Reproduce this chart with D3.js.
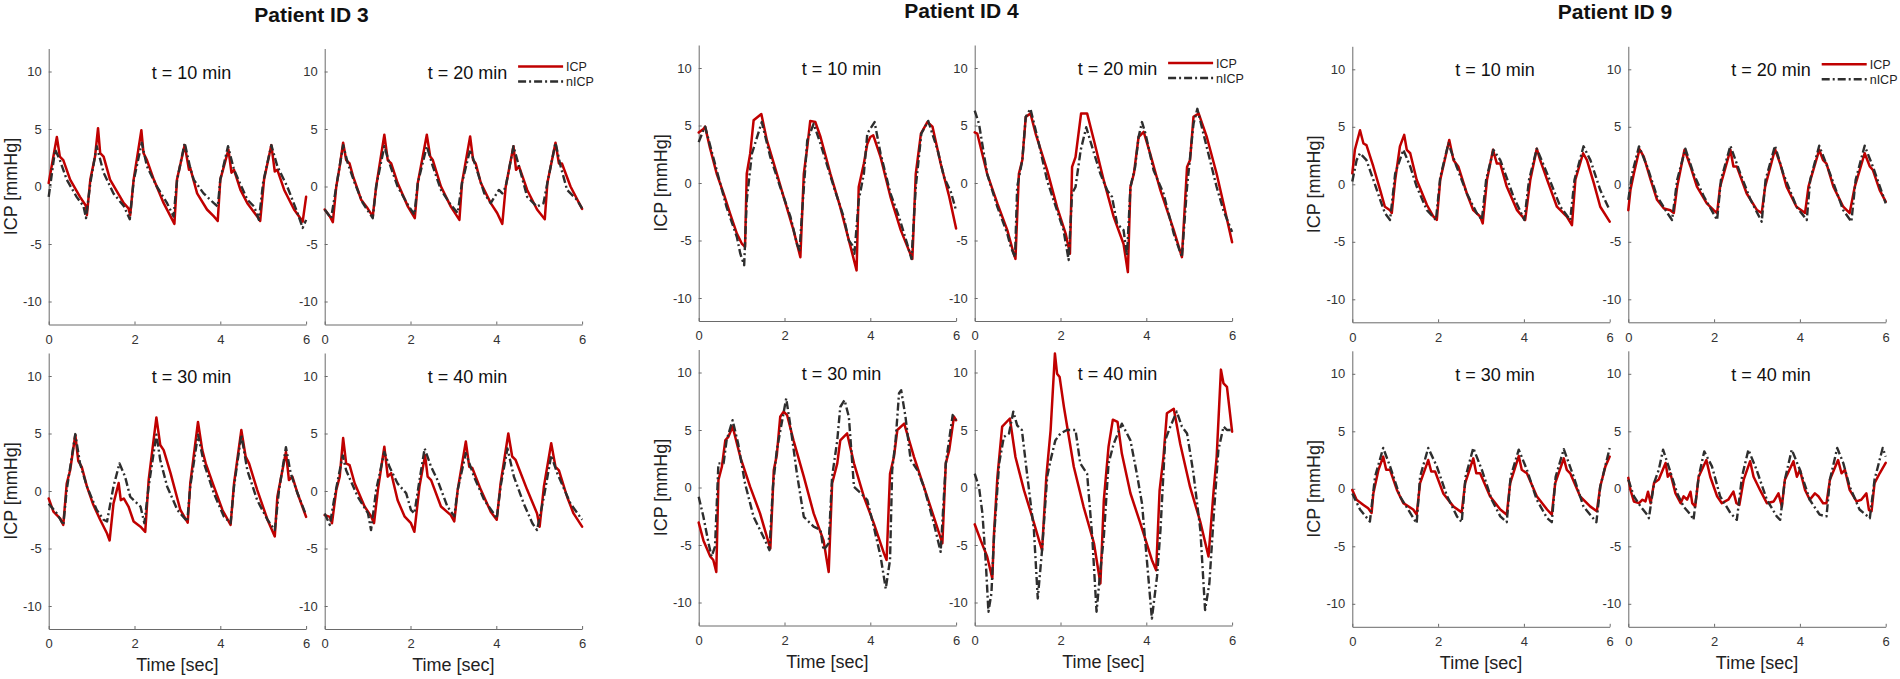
<!DOCTYPE html>
<html><head><meta charset="utf-8">
<script src="https://cdn.jsdelivr.net/npm/d3@7"></script>
<style>body{margin:0;background:#fff;} svg{display:block;font-family:"Liberation Sans",Arial,sans-serif;}</style>
</head><body><svg id="chart" width="1900" height="679"></svg>
<script>
const patients = ["Patient ID 3", "Patient ID 4", "Patient ID 9"];
const timeLabels = ["t = 10 min", "t = 20 min", "t = 30 min", "t = 40 min"];
const seriesNames = ["ICP", "nICP"];
const xTicks = [0, 2, 4, 6];
const yTicks = [-10, -5, 0, 5, 10];
const xLabel = "Time [sec]";
const yLabel = "ICP [mmHg]";

// Patient 3
const icp_3_10 = [[0,0.3],[0.19,4.3],[0.26,2.6],[0.34,2.3],[0.5,0.6],[0.73,-0.9],[0.87,-1.7],[0.89,-2.5],[0.97,0.6],[1.08,2.6],[1.15,5.07],[1.2,2.9],[1.28,2.6],[1.43,0.6],[1.75,-1.45],[1.86,-1.9],[1.9,-2.5],[1.98,0.6],[2.16,4.9],[2.21,2.9],[2.29,2.3],[2.45,0.6],[2.68,-1.45],[2.84,-2.6],[2.93,-3.25],[2.99,0.6],[3.17,3.6],[3.27,1.45],[3.3,1.6],[3.46,-0.6],[3.69,-2.0],[3.85,-2.6],[3.94,-3.0],[4.0,0.6],[4.19,3.2],[4.26,1.2],[4.32,1.45],[4.47,-0.3],[4.63,-1.45],[4.86,-2.6],[4.93,-3.0],[5.02,0.6],[5.19,3.6],[5.27,1.3],[5.33,1.45],[5.49,-0.3],[5.72,-2.0],[5.92,-3.05],[6.0,-0.9]];
const nicp_3_10 = [[0,-0.9],[0.15,3.2],[0.26,2.3],[0.42,0.6],[0.65,-0.9],[0.81,-1.7],[0.87,-2.75],[0.97,0.3],[1.12,3.5],[1.28,1.2],[1.51,-0.6],[1.75,-1.7],[1.89,-2.85],[1.98,0.5],[2.17,3.8],[2.29,1.75],[2.52,0],[2.76,-1.45],[2.91,-2.6],[2.99,0.5],[3.17,3.8],[3.29,1.75],[3.38,0.6],[3.61,-0.6],[3.85,-1.45],[3.94,-1.75],[4.0,0.6],[4.18,3.5],[4.32,1.45],[4.63,-1.15],[4.79,-1.75],[4.9,-2.9],[5.0,0.4],[5.19,3.6],[5.33,1.75],[5.56,0],[5.8,-2.3],[5.92,-3.6],[6.0,-2.9]];
const icp_3_20 = [[0,-2.0],[0.12,-2.6],[0.19,-3.1],[0.27,0],[0.35,1.75],[0.43,3.8],[0.5,2.3],[0.58,2.0],[0.66,0.9],[0.85,-1.15],[1.0,-1.9],[1.12,-2.6],[1.2,0],[1.39,4.5],[1.47,2.3],[1.55,2.0],[1.7,0.3],[1.94,-1.75],[2.1,-2.75],[2.17,0.3],[2.38,4.5],[2.46,2.6],[2.52,2.3],[2.71,0],[2.94,-1.75],[3.14,-2.9],[3.2,0.3],[3.39,4.35],[3.46,2.3],[3.52,2.0],[3.64,0.3],[3.87,-1.45],[4.02,-2.3],[4.14,-3.25],[4.22,0],[4.4,3.5],[4.46,1.45],[4.53,1.75],[4.72,-0.3],[4.95,-2.0],[5.13,-2.85],[5.19,0.3],[5.38,3.8],[5.46,2.0],[5.53,2.0],[5.73,0],[6.0,-1.95]];
const nicp_3_20 = [[0,-2.0],[0.15,-2.75],[0.27,0],[0.43,3.6],[0.54,2.0],[0.7,0.3],[0.89,-1.45],[1.12,-2.75],[1.2,0],[1.39,3.5],[1.51,2.0],[1.7,0],[1.94,-1.6],[2.09,-2.45],[2.17,0.3],[2.38,3.5],[2.52,1.75],[2.71,-0.3],[2.94,-1.6],[3.1,-2.3],[3.2,0.3],[3.39,3.2],[3.52,1.75],[3.72,-0.6],[3.87,-1.45],[4.06,-0.3],[4.14,-0.6],[4.22,0],[4.4,3.5],[4.53,1.75],[4.72,-0.9],[4.95,-1.75],[5.1,-1.45],[5.19,0.3],[5.38,3.8],[5.5,1.75],[5.65,-0.3],[5.88,-1.15],[6.0,-1.9]];
const icp_3_30 = [[0,-0.65],[0.11,-1.8],[0.27,-2.4],[0.34,-2.95],[0.42,0.65],[0.5,1.8],[0.62,4.87],[0.69,2.6],[0.77,2.1],[0.89,0.4],[1.04,-1.2],[1.2,-2.5],[1.36,-3.7],[1.42,-4.3],[1.51,-1.1],[1.63,0.7],[1.68,-0.8],[1.75,-0.65],[1.86,-1.35],[1.98,-2.65],[2.14,-3.1],[2.25,-3.55],[2.33,0.95],[2.51,6.4],[2.6,4.0],[2.68,3.55],[2.84,1.55],[3.07,-1.65],[3.24,-2.75],[3.3,0.65],[3.48,6.0],[3.58,3.55],[3.66,2.4],[3.85,0.4],[4.05,-1.65],[4.24,-2.95],[4.32,0.65],[4.49,5.3],[4.59,3.0],[4.67,2.4],[4.86,0.1],[5.1,-2.5],[5.27,-3.95],[5.33,-0.5],[5.53,3.4],[5.6,0.95],[5.68,1.25],[5.8,-0.2],[6.0,-2.25]];
const nicp_3_30 = [[0,-1.1],[0.19,-1.95],[0.34,-2.95],[0.42,0.1],[0.62,4.95],[0.73,2.4],[0.89,0.4],[1.12,-1.65],[1.28,-2.5],[1.36,-2.65],[1.51,0.4],[1.65,2.4],[1.78,1.25],[1.9,-0.5],[2.14,-1.35],[2.23,-2.8],[2.33,0.4],[2.51,4.9],[2.6,2.7],[2.76,0.4],[3.0,-1.65],[3.23,-2.65],[3.3,0.4],[3.48,4.9],[3.62,2.4],[3.85,-0.2],[4.08,-2.2],[4.24,-2.8],[4.32,0.4],[4.49,4.9],[4.63,1.8],[4.86,-0.8],[5.1,-2.5],[5.27,-3.4],[5.37,0.1],[5.53,3.8],[5.64,1.55],[5.8,-0.2],[6.0,-2.1]];
const icp_3_40 = [[0,-2.1],[0.12,-2.25],[0.17,-2.8],[0.27,0.1],[0.35,1.25],[0.43,4.6],[0.5,2.4],[0.58,2.25],[0.7,0.65],[0.93,-1.35],[1.08,-2.2],[1.15,-2.8],[1.24,0.1],[1.39,3.85],[1.47,1.25],[1.55,1.55],[1.7,-0.8],[1.86,-2.2],[2.01,-2.8],[2.09,-3.55],[2.21,0.4],[2.34,3.1],[2.4,1.25],[2.48,0.95],[2.71,-1.35],[2.94,-2.1],[3.02,-2.65],[3.1,0.1],[3.29,4.3],[3.37,2.1],[3.44,2.0],[3.64,0.1],[3.87,-1.8],[4.01,-2.5],[4.1,0.65],[4.28,5.0],[4.37,3.0],[4.45,2.7],[4.72,0.1],[4.95,-1.95],[5.01,-3.1],[5.11,0.4],[5.28,4.15],[5.38,2.1],[5.46,1.8],[5.65,-0.5],[5.8,-1.95],[6.0,-3.1]];
const nicp_3_40 = [[0,-1.95],[0.12,-2.95],[0.23,-0.5],[0.42,3.1],[0.5,1.8],[0.77,-0.5],[1.01,-1.95],[1.08,-3.4],[1.2,0.1],[1.39,3.4],[1.51,2.1],[1.7,0.65],[1.9,-0.2],[2.01,-1.65],[2.09,-1.95],[2.21,0.95],[2.33,3.7],[2.48,2.1],[2.63,0.95],[2.86,-1.35],[3.02,-2.2],[3.1,0.1],[3.29,3.3],[3.48,1.25],[3.72,-0.8],[3.91,-1.8],[4.01,-2.4],[4.1,0.4],[4.26,3.7],[4.41,1.25],[4.64,-1.1],[4.84,-2.8],[4.95,-3.4],[5.11,-0.5],[5.28,3.1],[5.42,1.55],[5.73,-1.1],[6.0,-2.5]];

// Patient 4
const icp_4_10 = [[0,4.4],[0.11,4.7],[0.15,4.9],[0.26,3.1],[0.42,0.8],[0.58,-0.9],[0.73,-2.65],[0.89,-4.4],[1.01,-5.3],[1.08,-5.55],[1.12,0.8],[1.2,2.55],[1.28,5.45],[1.36,5.7],[1.46,6.0],[1.59,3.7],[1.75,1.7],[1.98,-1.2],[2.21,-4.1],[2.37,-6.45],[2.45,0.8],[2.53,3.1],[2.6,5.4],[2.72,5.3],[2.84,4.0],[3.07,0.8],[3.3,-2.1],[3.54,-5.55],[3.68,-7.6],[3.73,-0.35],[3.85,1.7],[3.93,3.4],[4.0,4.0],[4.07,4.15],[4.24,2.25],[4.47,-1.2],[4.71,-4.1],[4.98,-6.6],[5.06,0.8],[5.18,4.3],[5.33,5.3],[5.45,4.9],[5.64,1.7],[5.84,-1.2],[6.0,-3.95]];
const nicp_4_10 = [[0,3.55],[0.11,4.6],[0.15,4.9],[0.42,1.1],[0.65,-2.1],[0.89,-4.7],[0.97,-6.15],[1.06,-7.15],[1.12,-1.5],[1.24,2.55],[1.47,5.3],[1.67,2.25],[1.9,-0.35],[2.14,-2.95],[2.29,-5.3],[2.35,-5.85],[2.43,-1.5],[2.53,3.7],[2.68,5.15],[2.84,3.4],[3.15,-0.35],[3.38,-2.95],[3.5,-5.0],[3.58,-5.4],[3.63,-6.15],[3.73,-1.5],[3.85,0.8],[3.93,4.3],[4.1,5.3],[4.24,2.55],[4.47,-0.9],[4.67,-2.95],[4.86,-5.3],[4.96,-6.6],[5.06,-0.35],[5.19,4.3],[5.35,5.4],[5.57,2.85],[5.72,0.5],[5.88,-0.8],[6.0,-2.4]];
const icp_4_20 = [[0,4.4],[0.06,4.3],[0.29,0.8],[0.53,-1.8],[0.76,-4.1],[0.91,-6.15],[0.95,-6.6],[1.03,0.8],[1.11,2.0],[1.19,5.75],[1.3,6.05],[1.42,4.3],[1.69,1.1],[1.92,-2.1],[2.12,-4.4],[2.22,-6.15],[2.27,1.4],[2.35,2.25],[2.48,6.05],[2.62,6.05],[2.78,3.7],[3.01,0.2],[3.24,-2.95],[3.47,-5.3],[3.57,-7.75],[3.63,-0.35],[3.71,0.8],[3.82,4.0],[3.94,4.45],[4.09,2.55],[4.33,-0.65],[4.64,-4.1],[4.83,-6.45],[4.95,1.4],[5.02,2.0],[5.1,5.75],[5.22,6.05],[5.41,4.0],[5.64,0.8],[5.8,-1.8],[6.0,-5.15]];
const nicp_4_20 = [[0,6.3],[0.1,5.15],[0.29,0.8],[0.53,-2.1],[0.76,-4.4],[0.84,-5.55],[0.94,-6.45],[0.99,-0.35],[1.11,2.0],[1.19,5.75],[1.3,6.45],[1.46,4.0],[1.69,0.2],[1.92,-2.4],[2.07,-4.1],[2.19,-6.7],[2.27,-0.9],[2.35,-0.35],[2.47,2.85],[2.6,4.85],[2.74,3.1],[2.93,0.8],[3.09,-0.65],[3.2,-1.2],[3.32,-3.55],[3.47,-4.1],[3.55,-6.3],[3.63,-0.35],[3.74,1.4],[3.82,4.0],[3.9,5.3],[3.98,4.3],[4.17,1.1],[4.4,-0.9],[4.64,-4.4],[4.83,-6.45],[4.95,-0.35],[5.1,5.15],[5.19,6.45],[5.41,3.1],[5.64,-0.35],[5.8,-2.4],[6.0,-4.25]];
const icp_4_30 = [[0,-3.05],[0.11,-4.6],[0.27,-6.0],[0.34,-6.3],[0.41,-7.35],[0.46,0.65],[0.54,1.8],[0.62,4.1],[0.69,4.4],[0.79,5.3],[0.97,2.65],[1.2,0.05],[1.43,-2.25],[1.59,-4.3],[1.67,-5.3],[1.75,1.5],[1.82,2.8],[1.9,6.15],[1.98,6.6],[2.06,6.3],[2.21,4.1],[2.45,0.95],[2.68,-2.25],[2.91,-4.6],[3.03,-7.35],[3.11,0.35],[3.23,2.1],[3.3,4.1],[3.46,4.7],[3.62,2.1],[3.85,-0.8],[4.08,-3.1],[4.32,-5.75],[4.38,-6.3],[4.46,1.2],[4.55,2.65],[4.63,5.0],[4.79,5.55],[5.02,2.65],[5.25,0.05],[5.48,-2.55],[5.68,-4.85],[5.76,2.1],[5.84,3.25],[5.95,6.15],[6.0,5.85]];
const nicp_4_30 = [[0,-0.8],[0.11,-2.55],[0.23,-4.85],[0.3,-6.0],[0.38,-5.15],[0.46,2.1],[0.58,2.1],[0.65,4.1],[0.79,5.85],[0.92,3.8],[1.08,0.35],[1.28,-2.55],[1.51,-4.3],[1.65,-5.45],[1.73,0.05],[1.82,3.25],[2.04,7.75],[2.14,5.3],[2.29,1.2],[2.45,-2.55],[2.68,-3.4],[2.84,-3.7],[2.91,-5.45],[3.03,-4.85],[3.11,0.95],[3.23,4.1],[3.3,7.0],[3.4,7.6],[3.5,6.15],[3.62,0.05],[3.78,-0.5],[3.93,-1.1],[4.08,-3.4],[4.24,-6.0],[4.36,-8.8],[4.46,-6.3],[4.51,1.5],[4.59,4.1],[4.67,8.2],[4.72,8.45],[4.82,6.15],[4.94,2.4],[5.1,1.5],[5.25,0.05],[5.48,-3.1],[5.64,-5.6],[5.76,2.1],[5.92,6.3],[6.0,5.85]];
const icp_4_40 = [[0,-3.2],[0.14,-4.6],[0.29,-6.0],[0.41,-7.9],[0.45,-4.0],[0.53,0.95],[0.64,5.3],[0.82,6.0],[0.95,2.65],[1.15,-0.25],[1.34,-2.55],[1.5,-4.6],[1.57,-5.45],[1.67,0.95],[1.77,5.0],[1.87,11.65],[1.92,9.9],[1.98,9.6],[2.08,7.0],[2.31,1.8],[2.54,-1.7],[2.78,-4.85],[2.93,-8.35],[3.01,-1.1],[3.12,3.55],[3.22,5.9],[3.33,5.7],[3.43,2.95],[3.63,-0.5],[3.86,-3.1],[4.13,-6.3],[4.23,-7.2],[4.31,-0.25],[4.4,2.65],[4.48,6.45],[4.64,6.85],[4.79,3.8],[5.02,0.05],[5.26,-3.0],[5.45,-6.0],[5.57,-0.25],[5.64,2.65],[5.74,10.25],[5.8,9.05],[5.88,8.75],[6.0,4.85]];
const nicp_4_40 = [[0,1.2],[0.1,0.05],[0.18,-2.25],[0.26,-6.6],[0.32,-10.8],[0.39,-9.2],[0.45,-4.3],[0.57,2.1],[0.68,4.4],[0.8,4.7],[0.9,6.6],[0.99,5.4],[1.1,5.0],[1.22,1.2],[1.38,-3.7],[1.47,-9.65],[1.57,-5.45],[1.69,0.95],[1.77,2.4],[1.88,4.1],[2.0,4.7],[2.15,5.0],[2.35,5.0],[2.46,2.1],[2.62,1.2],[2.74,-4.3],[2.84,-10.8],[2.93,-7.2],[3.01,-4.3],[3.12,2.1],[3.24,3.8],[3.43,5.55],[3.63,4.1],[3.78,1.2],[3.9,-1.4],[4.02,-6.6],[4.13,-11.4],[4.25,-7.75],[4.33,-3.7],[4.44,4.1],[4.56,5.3],[4.71,6.6],[4.83,5.3],[4.95,4.7],[5.1,1.2],[5.26,-3.7],[5.37,-10.65],[5.47,-8.35],[5.57,-2.55],[5.68,3.25],[5.8,5.3],[5.88,5.0],[6.0,5.0]];

// Patient 9
const icp_9_10 = [[0,0.95],[0.06,3.0],[0.18,4.7],[0.26,3.55],[0.33,3.4],[0.49,1.55],[0.65,-0.5],[0.76,-1.95],[0.88,-2.25],[0.92,-2.5],[1.0,0.4],[1.11,3.3],[1.21,4.3],[1.27,3.0],[1.35,2.7],[1.5,0.4],[1.74,-1.8],[1.89,-2.8],[1.97,-3.1],[2.05,0.4],[2.26,3.85],[2.36,2.1],[2.47,1.55],[2.67,-0.8],[2.82,-2.25],[2.98,-2.8],[3.04,-3.4],[3.14,0.4],[3.28,3.0],[3.37,1.8],[3.45,1.8],[3.6,-0.2],[3.84,-2.25],[4.03,-3.1],[4.15,0.4],[4.3,3.1],[4.38,2.1],[4.54,0.4],[4.77,-1.95],[5.0,-2.8],[5.12,-3.55],[5.2,0.4],[5.38,2.7],[5.47,2.1],[5.63,0.1],[5.78,-1.95],[6.0,-3.25]];
const nicp_9_10 = [[0,0.25],[0.1,2.1],[0.18,2.7],[0.33,2.1],[0.49,0.4],[0.65,-1.35],[0.76,-2.5],[0.88,-3.1],[1.0,0.95],[1.19,3.0],[1.35,1.55],[1.5,-0.2],[1.74,-2.25],[1.95,-3.1],[2.05,0.6],[2.24,3.55],[2.43,1.55],[2.67,-0.8],[2.9,-2.5],[3.02,-3.1],[3.12,0.4],[3.29,3.0],[3.45,2.1],[3.76,-1.1],[4.01,-3.1],[4.12,0.4],[4.3,3.1],[4.54,0.95],[4.85,-1.95],[5.08,-3.1],[5.18,0.4],[5.39,3.3],[5.55,2.1],[5.78,-0.5],[6.0,-2.25]];
const icp_9_20 = [[0,-2.25],[0.05,-0.5],[0.13,0.95],[0.26,3.05],[0.36,2.4],[0.52,0.4],[0.67,-1.35],[0.83,-2.1],[0.98,-2.25],[1.06,-2.5],[1.14,-0.2],[1.31,3.0],[1.37,2.4],[1.45,1.55],[1.6,-0.2],[1.83,-1.65],[1.99,-2.25],[2.07,-2.5],[2.14,-0.2],[2.38,3.0],[2.45,1.55],[2.53,1.55],[2.76,-0.8],[3.0,-2.25],[3.11,-2.5],[3.19,-0.2],[3.42,3.05],[3.54,1.8],[3.69,-0.2],[3.92,-1.95],[4.12,-2.5],[4.2,-0.2],[4.45,3.0],[4.54,2.1],[4.62,1.8],[4.78,-0.2],[5.01,-1.95],[5.16,-2.5],[5.28,-0.2],[5.51,2.7],[5.63,1.55],[5.7,1.25],[5.86,-0.5],[6.0,-1.5]];
const nicp_9_20 = [[0,-1.35],[0.09,0.95],[0.25,3.3],[0.44,1.55],[0.67,-1.05],[0.91,-2.5],[1.02,-3.1],[1.14,0.4],[1.33,3.1],[1.52,0.95],[1.76,-1.05],[2.07,-3.1],[2.16,0.4],[2.38,3.35],[2.61,0.95],[2.85,-1.35],[3.11,-3.25],[3.2,0.4],[3.42,3.35],[3.61,0.95],[3.92,-1.95],[4.16,-3.1],[4.24,0.4],[4.45,3.35],[4.7,0.95],[5.01,-2.25],[5.2,-3.25],[5.3,0.4],[5.51,3.35],[5.7,1.55],[6.0,-1.65]];
const icp_9_30 = [[0,-0.1],[0.1,-0.95],[0.26,-1.4],[0.37,-1.7],[0.45,-2.1],[0.49,-0.4],[0.61,1.65],[0.72,2.8],[0.79,1.65],[0.88,1.65],[1.04,-0.1],[1.19,-1.25],[1.42,-1.8],[1.5,-2.25],[1.58,0.5],[1.77,2.5],[1.84,1.5],[1.93,1.5],[2.12,-0.4],[2.36,-1.55],[2.55,-2.05],[2.63,0.5],[2.82,2.65],[2.89,1.35],[2.98,1.35],[3.21,-0.65],[3.45,-1.8],[3.6,-2.25],[3.68,0.5],[3.88,2.85],[3.95,1.65],[4.07,1.35],[4.3,-0.65],[4.54,-1.8],[4.65,-2.25],[4.73,0.5],[4.93,2.65],[5.0,1.65],[5.08,1.35],[5.31,-0.65],[5.55,-1.55],[5.7,-1.95],[5.78,0.2],[5.9,1.95],[6.0,2.8]];
const nicp_9_30 = [[0,-0.4],[0.18,-1.8],[0.41,-2.85],[0.53,1.05],[0.72,3.55],[0.88,1.95],[1.11,-0.65],[1.35,-2.1],[1.5,-3.0],[1.58,1.05],[1.77,3.55],[1.97,1.95],[2.21,-0.65],[2.44,-2.4],[2.55,-2.9],[2.64,1.05],[2.82,3.55],[3.02,1.65],[3.25,-0.95],[3.45,-2.4],[3.6,-2.9],[3.69,1.05],[3.88,3.4],[4.07,1.65],[4.3,-0.95],[4.54,-2.55],[4.65,-2.9],[4.74,1.05],[4.93,3.45],[5.16,1.05],[5.39,-1.55],[5.69,-2.9],[5.78,0.2],[6.0,3.55]];
const icp_9_40 = [[0,0.95],[0.05,-0.1],[0.13,-1.1],[0.25,-1.25],[0.33,-0.95],[0.4,-1.1],[0.46,-0.25],[0.52,-1.25],[0.6,0.5],[0.71,0.8],[0.87,2.25],[0.92,1.05],[0.98,1.35],[1.1,-0.4],[1.22,-1.25],[1.29,-0.65],[1.37,-0.95],[1.45,-0.25],[1.49,-1.25],[1.56,-1.55],[1.64,1.05],[1.82,2.5],[1.91,1.05],[2.07,-0.65],[2.18,-1.25],[2.33,-0.95],[2.45,-0.25],[2.52,-1.25],[2.59,-1.4],[2.69,0.8],[2.84,2.4],[2.92,1.05],[3.07,-0.1],[3.23,-1.25],[3.39,-1.1],[3.5,-0.4],[3.58,-1.55],[3.65,0.8],[3.85,2.4],[3.93,1.05],[4.0,1.65],[4.12,-0.1],[4.23,-0.95],[4.35,-0.4],[4.43,-0.65],[4.54,-1.25],[4.62,-1.25],[4.7,0.8],[4.89,2.5],[4.97,1.35],[5.05,1.65],[5.16,-0.1],[5.32,-1.1],[5.43,-0.95],[5.55,-0.4],[5.61,-1.85],[5.67,-1.95],[5.74,0.5],[5.86,1.35],[6.0,2.25]];
const nicp_9_40 = [[0,0.8],[0.13,-0.65],[0.29,-1.55],[0.44,-2.25],[0.48,-2.55],[0.6,0.5],[0.71,1.65],[0.81,3.4],[0.94,1.95],[1.14,-0.4],[1.29,-1.55],[1.45,-2.25],[1.52,-2.7],[1.64,1.05],[1.77,3.25],[1.95,1.95],[2.14,-0.65],[2.38,-2.1],[2.53,-2.7],[2.65,1.05],[2.8,3.4],[2.99,1.65],[3.23,-0.95],[3.46,-2.4],[3.54,-2.7],[3.65,0.8],[3.81,3.4],[4.0,1.65],[4.23,-0.95],[4.46,-2.25],[4.62,-2.4],[4.7,0.8],[4.87,3.55],[5.01,2.25],[5.16,0.2],[5.39,-1.8],[5.63,-2.55],[5.74,0.8],[5.93,3.55],[6.0,2.8]];

const panelSeries = [
  [[icp_3_10, nicp_3_10], [icp_3_20, nicp_3_20], [icp_3_30, nicp_3_30], [icp_3_40, nicp_3_40]],
  [[icp_4_10, nicp_4_10], [icp_4_20, nicp_4_20], [icp_4_30, nicp_4_30], [icp_4_40, nicp_4_40]],
  [[icp_9_10, nicp_9_10], [icp_9_20, nicp_9_20], [icp_9_30, nicp_9_30], [icp_9_40, nicp_9_40]]
];

// ---- layout & style ----
const groupLeft = [48.7, 698.7, 1352.3];
const groupTop = [48.5, 45, 46.3];
const PW = 257.4, PG = 18.6, PH = 276, RG = 28.5;
const RED = "#c00000", DARK = "#2e2e2e";
const AXIS = "#6a6a6a", TICKTXT = "#333";

const svg = d3.select("#chart");

patients.forEach((pname, gi) => {
  const gx = groupLeft[gi], gy = groupTop[gi];
  const gw = 2 * PW + PG;
  svg.append("text")
    .attr("x", gx + gw / 2 - 4).attr("y", gy - 27)
    .attr("text-anchor", "middle")
    .attr("font-size", "21px").attr("font-weight", "bold").attr("fill", "#111")
    .text(pname);

  for (let r = 0; r < 2; r++) for (let c = 0; c < 2; c++) {
    const k = r * 2 + c;
    const x0 = gx + c * (PW + PG), y0 = gy + r * (PH + RG);
    const x = d3.scaleLinear().domain([0, 6]).range([x0, x0 + PW]);
    const y = d3.scaleLinear().domain([-12, 12]).range([y0 + PH, y0]);
    const g = svg.append("g");

    const xa = g.append("g").attr("transform", `translate(0,${y0 + PH})`)
      .call(d3.axisBottom(x).tickValues(xTicks).tickFormat(d3.format("d")).tickSizeInner(-3).tickSizeOuter(0).tickPadding(10));
    const ya = g.append("g").attr("transform", `translate(${x0},0)`)
      .call(d3.axisLeft(y).tickValues(yTicks).tickFormat(d => d).tickSizeInner(-3).tickSizeOuter(0).tickPadding(7));
    [xa, ya].forEach(a => {
      a.select(".domain").attr("stroke", AXIS).attr("stroke-width", 1);
      a.selectAll(".tick line").attr("stroke", AXIS).attr("stroke-width", 1);
      a.selectAll(".tick text").attr("fill", TICKTXT).attr("font-size", "13px")
        .attr("font-family", '"Liberation Sans", Arial, sans-serif');
    });

    const line = d3.line().x(d => x(d[0])).y(d => y(d[1]));
    const [icp, nicp] = panelSeries[gi][k];
    g.append("path").datum(icp).attr("d", line)
      .attr("fill", "none").attr("stroke", RED).attr("stroke-width", 2.5)
      .attr("stroke-linejoin", "round").attr("stroke-linecap", "round");
    g.append("path").datum(nicp).attr("d", line)
      .attr("fill", "none").attr("stroke", DARK).attr("stroke-width", 2.4)
      .attr("stroke-dasharray", "8,3,2,3").attr("stroke-linejoin", "round");

    g.append("text")
      .attr("x", x(2.4)).attr("y", y(10) + 7)
      .attr("font-size", "18px").attr("fill", "#111")
      .text(timeLabels[k]);

    if (c === 0) {
      g.append("text")
        .attr("transform", `translate(${x0 - 32},${y(0)}) rotate(-90)`)
        .attr("text-anchor", "middle").attr("font-size", "18px").attr("fill", "#222")
        .text(yLabel);
    }
    if (r === 1) {
      g.append("text")
        .attr("x", x(3)).attr("y", y0 + PH + 42)
        .attr("text-anchor", "middle").attr("font-size", "18px").attr("fill", "#222")
        .text(xLabel);
    }
    if (r === 0 && c === 1) {
      const lx = x0 + PW - 64;
      seriesNames.forEach((s, si) => {
        const ly = y0 + 18 + si * 15;
        g.append("line").attr("x1", lx).attr("x2", lx + 45).attr("y1", ly).attr("y2", ly)
          .attr("stroke", si === 0 ? RED : DARK).attr("stroke-width", 2.4)
          .attr("stroke-dasharray", si === 0 ? null : "8,3,2,3");
        g.append("text").attr("x", lx + 48).attr("y", ly + 4.5)
          .attr("font-size", "12.5px").attr("fill", "#222").text(s);
      });
    }
  }
});
</script>
</body></html>
